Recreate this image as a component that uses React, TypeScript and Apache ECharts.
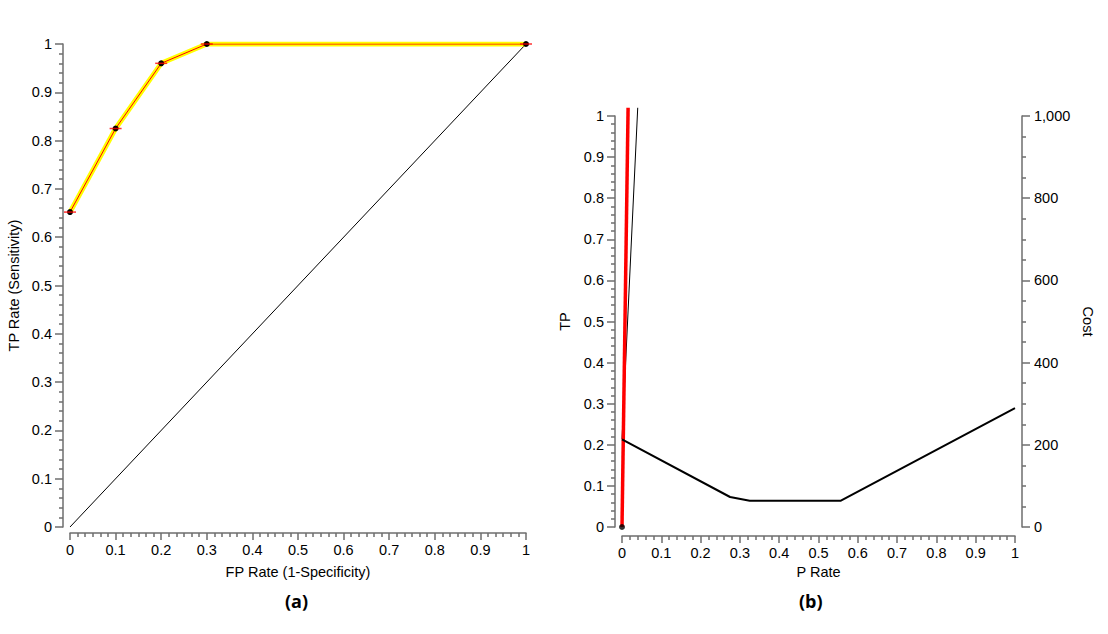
import React, { useEffect, useRef } from "react";
import * as echarts from "echarts";

// ROC chart (a)
const rocPoints: [number, number][] = [
  [0, 0.652],
  [0.1, 0.825],
  [0.2, 0.96],
  [0.3, 1],
  [1, 1],
];
const diagonal: [number, number][] = [
  [0, 0],
  [1, 1],
];

// Cost chart (b)
const redLine: [number, number][] = [
  [0, 0],
  [0.0155, 1.02],
];
const thinLine: [number, number][] = [
  [0, 0.214],
  [0.04, 1.02],
];
const costCurve: [number, number][] = [
  [0, 213],
  [0.275, 73],
  [0.325, 64],
  [0.557, 64],
  [1, 289],
];
const originPoint: [number, number][] = [[0, 0]];

const FONT = "'Liberation Sans', Arial, sans-serif";
const AXIS_COLOR = "#6e6e6e";
const FS = 14.5;

function valueAxis(extra: any) {
  return {
    type: "value",
    splitLine: { show: false },
    axisLine: { show: true, onZero: false, lineStyle: { color: AXIS_COLOR, width: 1.5 } },
    axisTick: { show: true, inside: false, length: 8, lineStyle: { color: AXIS_COLOR, width: 1.5 } },
    minorTick: { show: true, length: 4, lineStyle: { color: AXIS_COLOR, width: 1.5 } },
    axisLabel: { color: "#000", fontSize: FS, fontFamily: FONT },
    nameTextStyle: { color: "#000", fontSize: FS, fontFamily: FONT },
    nameLocation: "middle",
    ...extra,
  };
}

export default function App() {
  const ref = useRef<HTMLDivElement>(null);
  useEffect(() => {
    if (!ref.current) return;
    const chart = echarts.init(ref.current, null, { renderer: "svg" });
    const option: any = {
      animation: false,
      backgroundColor: "#fff",
      grid: [
        { left: 70, top: 44, width: 456, height: 483 },
        { left: 622, top: 116, width: 393, height: 411 },
      ],
      xAxis: [
        valueAxis({
          gridIndex: 0,
          min: 0,
          max: 1,
          interval: 0.1,
          offset: 6,
          name: "FP Rate (1-Specificity)",
          nameGap: 31,
          axisTick: { show: true, length: 7, lineStyle: { color: AXIS_COLOR, width: 1.5 } },
          minorTick: { show: true, splitNumber: 6, length: 4, lineStyle: { color: AXIS_COLOR, width: 1.5 } },
          axisLabel: { color: "#000", fontSize: FS, fontFamily: FONT, margin: 9 },
        }),
        valueAxis({
          gridIndex: 1,
          min: 0,
          max: 1,
          interval: 0.1,
          offset: 9,
          name: "P Rate",
          nameGap: 28,
          axisTick: { show: true, length: 7, lineStyle: { color: AXIS_COLOR, width: 1.5 } },
          minorTick: { show: true, splitNumber: 5, length: 4, lineStyle: { color: AXIS_COLOR, width: 1.5 } },
          axisLabel: { color: "#000", fontSize: FS, fontFamily: FONT, margin: 9 },
        }),
      ],
      yAxis: [
        valueAxis({
          gridIndex: 0,
          min: 0,
          max: 1,
          interval: 0.1,
          offset: 7,
          name: "TP Rate (Sensitivity)",
          nameGap: 42,
          nameRotate: 90,
          minorTick: { show: true, splitNumber: 5, length: 4, lineStyle: { color: AXIS_COLOR, width: 1.5 } },
          axisLabel: { color: "#000", fontSize: FS, fontFamily: FONT, margin: 11 },
        }),
        valueAxis({
          gridIndex: 1,
          min: 0,
          max: 1,
          interval: 0.1,
          offset: 7,
          name: "TP",
          nameGap: 43,
          nameRotate: 90,
          minorTick: { show: true, splitNumber: 5, length: 4, lineStyle: { color: AXIS_COLOR, width: 1.5 } },
          axisLabel: { color: "#000", fontSize: FS, fontFamily: FONT, margin: 11 },
        }),
        valueAxis({
          gridIndex: 1,
          position: "right",
          min: 0,
          max: 1000,
          interval: 200,
          offset: 7,
          name: "Cost",
          nameGap: 58,
          nameRotate: -90,
          minorTick: { show: true, splitNumber: 4, length: 4, lineStyle: { color: AXIS_COLOR, width: 1.5 } },
          axisLabel: {
            color: "#000",
            fontSize: FS,
            fontFamily: FONT,
            margin: 12,
            formatter: (v: number) => v.toLocaleString("en-US"),
          },
        }),
      ],
      series: [
        {
          type: "line",
          xAxisIndex: 0,
          yAxisIndex: 0,
          data: diagonal,
          symbol: "none",
          lineStyle: { color: "#000", width: 1 },
          silent: true,
        },
        {
          type: "line",
          xAxisIndex: 0,
          yAxisIndex: 0,
          data: rocPoints,
          symbol: "none",
          lineStyle: { color: "#ffff00", width: 5 },
          silent: true,
        },
        {
          type: "line",
          xAxisIndex: 0,
          yAxisIndex: 0,
          data: rocPoints,
          symbol: "circle",
          symbolSize: 6,
          itemStyle: { color: "#000" },
          lineStyle: { color: "#ff0000", width: 1 },
          silent: true,
        },
        {
          type: "scatter",
          xAxisIndex: 0,
          yAxisIndex: 0,
          data: rocPoints,
          symbol: "rect",
          symbolSize: [12, 1.5],
          itemStyle: { color: "#ff0000" },
          silent: true,
          z: 5,
        },
        {
          type: "line",
          xAxisIndex: 1,
          yAxisIndex: 1,
          data: thinLine,
          symbol: "none",
          clip: false,
          lineStyle: { color: "#000", width: 1 },
          silent: true,
        },
        {
          type: "line",
          xAxisIndex: 1,
          yAxisIndex: 1,
          data: redLine,
          symbol: "none",
          clip: false,
          lineStyle: { color: "#ff0000", width: 3.5 },
          silent: true,
        },
        {
          type: "line",
          xAxisIndex: 1,
          yAxisIndex: 2,
          data: costCurve,
          symbol: "none",
          lineStyle: { color: "#000", width: 2 },
          silent: true,
        },
        {
          type: "scatter",
          xAxisIndex: 1,
          yAxisIndex: 1,
          data: originPoint,
          symbol: "circle",
          symbolSize: 6,
          itemStyle: { color: "#000" },
          silent: true,
          z: 5,
        },
      ],
      graphic: [
        {
          type: "text",
          left: 285,
          top: 592,
          style: { text: "(a)", font: "bold 18px 'Open Sans', sans-serif", fill: "#000" },
        },
        {
          type: "text",
          left: 799,
          top: 592,
          style: { text: "(b)", font: "bold 18px 'Open Sans', sans-serif", fill: "#000" },
        },
      ],
    };
    chart.setOption(option);
    return () => chart.dispose();
  }, []);
  return (
    <div
      ref={ref}
      style={{ position: "fixed", left: 0, top: 0, width: 1108, height: 634 }}
    />
  );
}
